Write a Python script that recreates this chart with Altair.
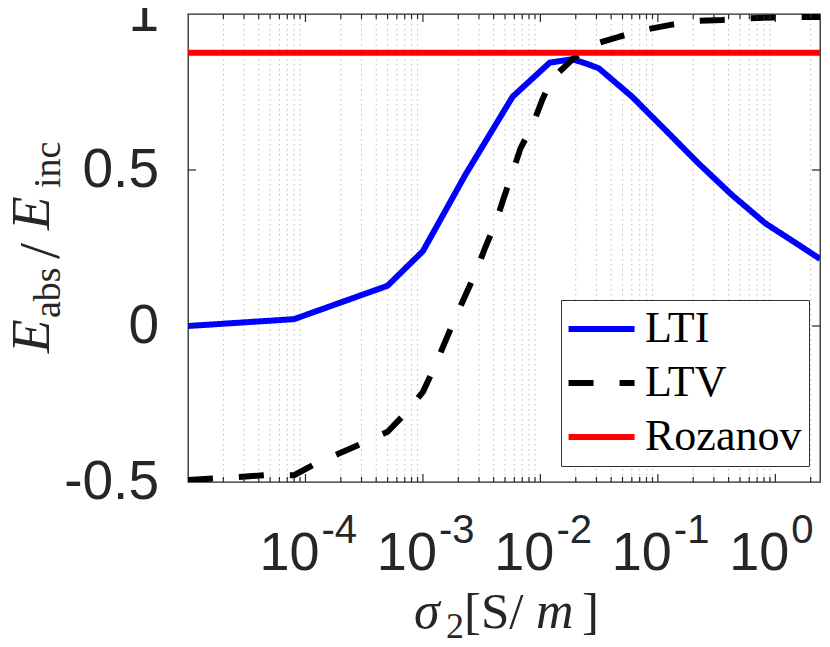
import altair as alt
import pandas as pd

# ---- data ----
lti_sigma = [1.0e-5, 8.0e-5, 5.0e-4, 1.0e-3, 2.3e-3, 5.8e-3, 1.20e-2, 1.86e-2,
             2.42e-2, 3.14e-2, 6.03e-2, 0.116, 0.222, 0.427, 0.822, 1.58, 2.4]
lti_value = [0.000, 0.022, 0.129, 0.240, 0.485, 0.735, 0.844, 0.855,
             0.842, 0.826, 0.735, 0.628, 0.521, 0.420, 0.329, 0.260, 0.215]

ltv_sigma = [1.0e-5, 1.63e-5, 4.68e-5, 8.0e-5, 1.24e-4, 3.15e-4, 5.0e-4, 7.1e-4, 1.0e-3, 1.24e-3,
             1.84e-3, 2.81e-3, 3.41e-3, 4.15e-3, 4.89e-3, 5.75e-3, 6.78e-3, 8.51e-3, 1.035e-2, 1.26e-2,
             1.86e-2, 2.75e-2, 4.65e-2, 7.57e-2, 0.128, 0.208, 0.351, 0.573, 1.0, 1.58, 2.4]
ltv_value = [-0.494, -0.489, -0.478, -0.478, -0.440, -0.374, -0.339, -0.280, -0.211, -0.136,
             0.017, 0.171, 0.254, 0.329, 0.412, 0.489, 0.570, 0.641, 0.724, 0.794,
             0.853, 0.901, 0.927, 0.949, 0.965, 0.978, 0.981, 0.986, 0.989, 0.990, 0.990]

roz_sigma = [1.0e-5, 2.4]
roz_value = [0.876, 0.876]

series_names = ["LTI", "LTV", "Rozanov"]
series_colors = ["#0000ff", "#000000", "#ff0000"]
series_dash = [[1, 0], [25, 26], [1, 0]]

x_domain = [1.0e-5, 2.4]
y_domain = [-0.5, 1.0]
x_major = [1e-4, 1e-3, 1e-2, 1e-1, 1e0]
x_exponents = ["-4", "-3", "-2", "-1", "0"]
x_minor = [k * 10.0 ** e for e in range(-5, 1) for k in range(2, 10) if k * 10.0 ** e <= 2.4]
y_ticks = [-0.5, 0.0, 0.5, 1.0]
y_tick_labels = ["-0.5", "0", "0.5", "1"]
y_inner_ticks = [0.0, 0.5]

# ---- tables ----
rows = []
for name, xs, ys in [("LTI", lti_sigma, lti_value), ("LTV", ltv_sigma, ltv_value),
                     ("Rozanov", roz_sigma, roz_value)]:
    for i, (a, b) in enumerate(zip(xs, ys)):
        rows.append({"sigma": a, "value": b, "series": name, "i": i})
curves = pd.DataFrame(rows)
major_df = pd.DataFrame({"v": x_major, "e": x_exponents})
minor_df = pd.DataFrame({"v": x_minor})
ytick_df = pd.DataFrame({"v": y_inner_ticks})
ylabel_df = pd.DataFrame({"v": y_ticks, "t": y_tick_labels})
one = pd.DataFrame({"k": [0]})

W, H = 632, 468
AX = "#262626"
LW = 6
xscale = alt.Scale(type="log", domain=x_domain, nice=False)
yscale = alt.Scale(domain=y_domain, nice=False, zero=False)

legend = alt.Legend(
    title=None, orient="none", legendX=373, legendY=286,
    symbolType="M-1.3,0H2.7", symbolSize=1089, symbolStrokeWidth=LW,
    labelFont="Liberation Serif", labelFontSize=44, labelColor="black",
    labelOffset=33, labelLimit=400, padding=7, rowPadding=10,
    strokeColor="#333333", fillColor="white", zindex=1,
)

minor_grid = alt.Chart(minor_df).mark_rule(
    color="#bdbdbd", strokeWidth=1, strokeDash=[1.5, 3.5]
).encode(x=alt.X("v:Q", scale=xscale, axis=None))

lines = alt.Chart(curves).mark_line(strokeWidth=LW, clip=True).encode(
    x=alt.X("sigma:Q", scale=xscale,
            axis=alt.Axis(values=x_major, labels=False, ticks=False, domain=False,
                          grid=True, gridColor="#e2e2e2", gridWidth=1.5, title=None)),
    y=alt.Y("value:Q", scale=yscale,
            axis=alt.Axis(values=y_ticks, labels=False, ticks=False, domain=False,
                          grid=True, gridColor="#e2e2e2", gridWidth=1.5, title=None)),
    color=alt.Color("series:N", scale=alt.Scale(domain=series_names, range=series_colors), legend=legend),
    strokeDash=alt.StrokeDash("series:N", scale=alt.Scale(domain=series_names, range=series_dash), legend=legend),
    order="i:Q",
)

def xticks(length, df):
    bottom = alt.Chart(df).mark_rule(color=AX, strokeWidth=1.2).encode(
        x=alt.X("v:Q", scale=xscale, axis=None), y=alt.value(H), y2=alt.value(H - length))
    top = alt.Chart(df).mark_rule(color=AX, strokeWidth=1.2).encode(
        x=alt.X("v:Q", scale=xscale, axis=None), y=alt.value(0), y2=alt.value(length))
    return [bottom, top]

ytick_left = alt.Chart(ytick_df).mark_rule(color=AX, strokeWidth=1.2).encode(
    y=alt.Y("v:Q", scale=yscale, axis=None), x=alt.value(0), x2=alt.value(8))
ytick_right = alt.Chart(ytick_df).mark_rule(color=AX, strokeWidth=1.2).encode(
    y=alt.Y("v:Q", scale=yscale, axis=None), x=alt.value(W), x2=alt.value(W - 8))

y_labels = alt.Chart(ylabel_df).mark_text(
    font="Liberation Sans", fontSize=55, color=AX, align="right", baseline="middle"
).encode(y=alt.Y("v:Q", scale=yscale, axis=None), x=alt.value(-29), text="t:N")

ten_labels = alt.Chart(major_df).mark_text(
    text="10", font="Liberation Sans", fontSize=54, color=AX, align="right",
    baseline="alphabetic", dx=14
).encode(x=alt.X("v:Q", scale=xscale, axis=None), y=alt.value(H + 88))
exp_labels = alt.Chart(major_df).mark_text(
    font="Liberation Sans", fontSize=40, color=AX, align="left",
    baseline="alphabetic", dx=16
).encode(x=alt.X("v:Q", scale=xscale, axis=None), y=alt.value(H + 61), text="e:N")


def piece(txt, x, y, size, italic=False, angle=0, align="left"):
    return alt.Chart(one).mark_text(
        text=txt, font="Liberation Serif", fontSize=size,
        fontStyle="italic" if italic else "normal", angle=angle, align=align,
        baseline="alphabetic", color=AX
    ).encode(x=alt.value(x), y=alt.value(y))

# y label: E_abs / E_inc (rotated)
ylab = [
    piece("E", -139, 339, 55, italic=True, angle=270),
    piece("abs", -128, 304, 38, angle=270),
    piece("/", -129, 237, 58, angle=270, align="center"),
    piece("E", -139, 216, 55, italic=True, angle=270),
    piece("inc", -128, 174, 38, angle=270),
]
# x label: sigma_2 [S/m]
xlab = [
    piece("σ", 226, 614, 52, italic=True),
    piece("2", 258, 624, 36),
    piece("[S/", 276, 614, 51),
    piece("m", 348, 614, 52, italic=True),
    piece("]", 394, 614, 51),
]

layers = [minor_grid, lines] + xticks(8, major_df) + xticks(5, minor_df) + \
         [ytick_left, ytick_right, y_labels, ten_labels, exp_labels] + ylab + xlab

chart = alt.layer(*layers).properties(
    width=W, height=H,
    padding={"left": 180, "top": 6, "right": 2, "bottom": 157},
    autosize=alt.AutoSizeParams(type="none"),
    background="white",
).configure_view(stroke=AX, strokeWidth=1.3)

chart.save("out.html", embed_options={"renderer": "svg", "actions": False})
